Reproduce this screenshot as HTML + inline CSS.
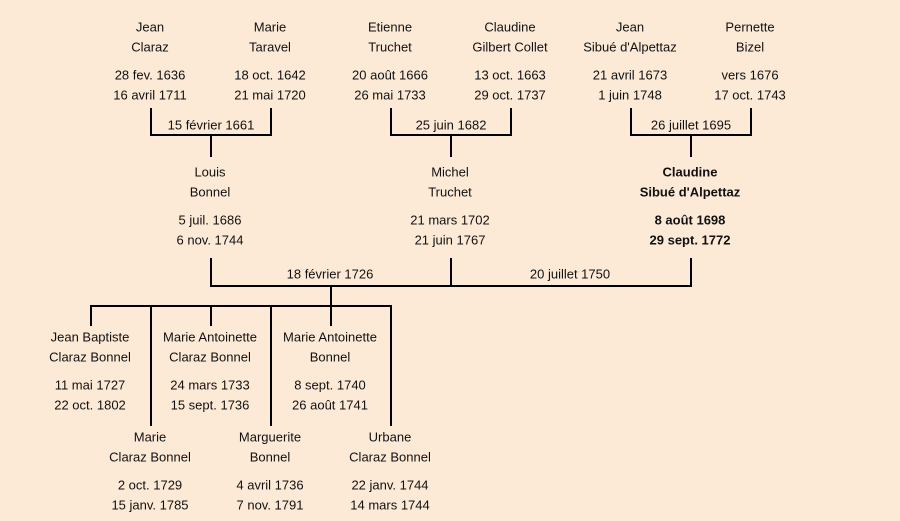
<!DOCTYPE html>
<html><head><meta charset="utf-8"><style>
html,body{margin:0;padding:0;background:#FCEAD7;}
svg{display:block}
text{font-family:"Liberation Sans","DejaVu Sans",sans-serif;font-size:13px;fill:#111;text-anchor:middle;dominant-baseline:central}
.b{font-weight:bold}
</style></head><body>
<svg width="900" height="521" viewBox="0 0 900 521">
<rect width="900" height="521" fill="#FCEAD7"/>
<g stroke="#000" stroke-width="2" fill="none" stroke-linecap="square">
<!-- top brackets -->
<polyline points="151,109 151,135 271,135 271,109"/><line x1="211" y1="135" x2="211" y2="156"/>
<polyline points="391,109 391,135 511,135 511,109"/><line x1="451" y1="135" x2="451" y2="156"/>
<polyline points="631,109 631,135 751,135 751,109"/><line x1="691" y1="135" x2="691" y2="156"/>
<!-- middle -->
<polyline points="211,259 211,286 691,286 691,259"/><line x1="451" y1="259" x2="451" y2="286"/>
<line x1="331" y1="286" x2="331" y2="306"/>
<line x1="91" y1="306" x2="391" y2="306"/>
<line x1="91" y1="306" x2="91" y2="325"/>
<line x1="211" y1="306" x2="211" y2="325"/>
<line x1="331" y1="306" x2="331" y2="325"/>
<line x1="151" y1="306" x2="151" y2="425"/>
<line x1="271" y1="306" x2="271" y2="425"/>
<line x1="391" y1="306" x2="391" y2="425"/>
</g>
<!-- top row -->
<text x="150" y="27">Jean</text><text x="150" y="47">Claraz</text><text x="150" y="75">28 fev. 1636</text><text x="150" y="95">16 avril 1711</text>
<text x="270" y="27">Marie</text><text x="270" y="47">Taravel</text><text x="270" y="75">18 oct. 1642</text><text x="270" y="95">21 mai 1720</text>
<text x="390" y="27">Etienne</text><text x="390" y="47">Truchet</text><text x="390" y="75">20 août 1666</text><text x="390" y="95">26 mai 1733</text>
<text x="510" y="27">Claudine</text><text x="510" y="47">Gilbert Collet</text><text x="510" y="75">13 oct. 1663</text><text x="510" y="95">29 oct. 1737</text>
<text x="630" y="27">Jean</text><text x="630" y="47">Sibué d'Alpettaz</text><text x="630" y="75">21 avril 1673</text><text x="630" y="95">1 juin 1748</text>
<text x="750" y="27">Pernette</text><text x="750" y="47">Bizel</text><text x="750" y="75">vers 1676</text><text x="750" y="95">17 oct. 1743</text>
<text x="211" y="125">15 février 1661</text><text x="451" y="125">25 juin 1682</text><text x="691" y="125">26 juillet 1695</text>
<!-- second row -->
<text x="210" y="172">Louis</text><text x="210" y="192">Bonnel</text><text x="210" y="220">5 juil. 1686</text><text x="210" y="240">6 nov. 1744</text>
<text x="450" y="172">Michel</text><text x="450" y="192">Truchet</text><text x="450" y="220">21 mars 1702</text><text x="450" y="240">21 juin 1767</text>
<text class="b" x="690" y="172">Claudine</text><text class="b" x="690" y="192">Sibué d'Alpettaz</text><text class="b" x="690" y="220">8 août 1698</text><text class="b" x="690" y="240">29 sept. 1772</text>
<text x="330" y="274">18 février 1726</text><text x="570" y="274">20 juillet 1750</text>
<!-- children -->
<text x="90" y="337">Jean Baptiste</text><text x="90" y="357">Claraz Bonnel</text><text x="90" y="385">11 mai 1727</text><text x="90" y="405">22 oct. 1802</text>
<text x="210" y="337">Marie Antoinette</text><text x="210" y="357">Claraz Bonnel</text><text x="210" y="385">24 mars 1733</text><text x="210" y="405">15 sept. 1736</text>
<text x="330" y="337">Marie Antoinette</text><text x="330" y="357">Bonnel</text><text x="330" y="385">8 sept. 1740</text><text x="330" y="405">26 août 1741</text>
<text x="150" y="437">Marie</text><text x="150" y="457">Claraz Bonnel</text><text x="150" y="485">2 oct. 1729</text><text x="150" y="505">15 janv. 1785</text>
<text x="270" y="437">Marguerite</text><text x="270" y="457">Bonnel</text><text x="270" y="485">4 avril 1736</text><text x="270" y="505">7 nov. 1791</text>
<text x="390" y="437">Urbane</text><text x="390" y="457">Claraz Bonnel</text><text x="390" y="485">22 janv. 1744</text><text x="390" y="505">14 mars 1744</text>
</svg>
</body></html>
